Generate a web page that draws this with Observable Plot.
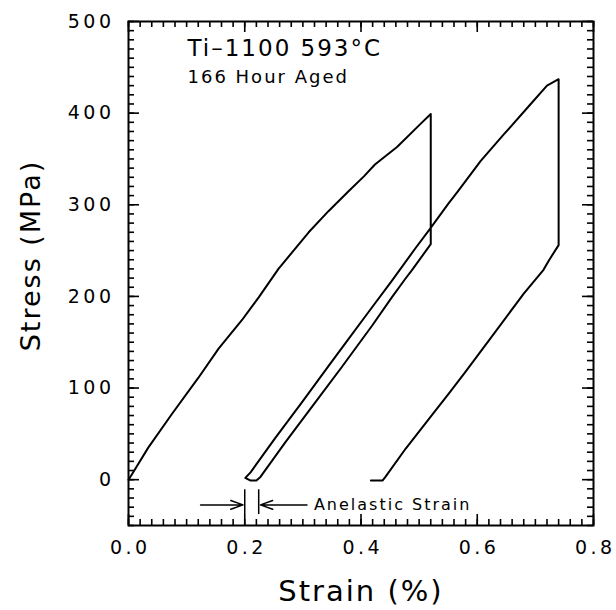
<!DOCTYPE html>
<html><head><meta charset="utf-8">
<script src="https://cdn.jsdelivr.net/npm/d3@7"></script>
<script src="https://cdn.jsdelivr.net/npm/@observablehq/plot@0.6"></script>
<style>
body{margin:0;background:#fff;}
svg text{letter-spacing:2px;}
g[aria-label="x-axis tick label"] text, g[aria-label="y-axis tick label"] text{letter-spacing:3.5px;}
g[aria-label="title1"] text{letter-spacing:4px;}
g[aria-label="title2"] text{letter-spacing:3.6px;}
g[aria-label="annot"] text{letter-spacing:2.8px;}
</style></head><body><div id="chart"></div>
<script>
// Continuous stress-strain trace: load, hold drop, unload, reload, hold drop, unload
const strain = [
  0, 0.006, 0.034, 0.075, 0.120, 0.155, 0.195, 0.224, 0.258, 0.310, 0.344, 0.379, 0.405, 0.424, 0.462, 0.502, 0.520,
  0.520,
  0.488, 0.476, 0.453, 0.419, 0.367, 0.321, 0.270, 0.227, 0.220, 0.210, 0.201,
  0.210, 0.252, 0.298, 0.344, 0.379, 0.413, 0.453, 0.493, 0.519, 0.550, 0.566, 0.606, 0.646, 0.692, 0.720, 0.740,
  0.740,
  0.723, 0.714, 0.680, 0.633, 0.579, 0.551, 0.525, 0.477, 0.442, 0.437, 0.417
];
const stress = [
  0, 6, 35, 72, 111, 143, 174, 199, 230, 270, 293, 315, 331, 344, 363, 388, 399,
  257,
  229, 219, 199, 168, 123, 84, 41, 3, -1, -1, 2,
  8, 45, 84, 124, 154, 183, 217, 252, 274, 301, 314, 348, 377, 410, 430, 437,
  256,
  239, 229, 203, 163, 117, 94, 73, 34, 3, -1, -1
];

const xMajor = [0, 0.2, 0.4, 0.6, 0.8];
const yMajor = [0, 100, 200, 300, 400, 500];
const xMinor = d3.range(0, 41).map(i => i / 50);
const yMinor = d3.range(-5, 51).map(i => i * 10);
const xDomain = [0, 0.8];
const yDomain = [-50, 500];

const titleLines = ["Ti–1100 593°C", "166 Hour Aged"];
const xLabel = "Strain (%)";
const yLabel = "Stress (MPa)";
const annotText = "Anelastic Strain";
const anelasticBounds = [0.200, 0.224];
const anelasticArrows = [{from: 0.124, to: 0.197}, {from: 0.307, to: 0.227}];
const annotStress = -27.5;

const W = 616, H = 610, mL = 128, mR = 23, mT = 21, mB = 85;
const frameW = W - mL - mR, frameH = H - mT - mB;
const data = strain.map((x, i) => ({x, y: stress[i]}));
const tk = {stroke: "black", strokeWidth: 1.6};

const chart = Plot.plot({
  width: W, height: H,
  marginLeft: mL, marginRight: mR, marginTop: mT, marginBottom: mB,
  style: {fontFamily: "DejaVu Sans", color: "black", background: "white"},
  x: {domain: xDomain},
  y: {domain: yDomain},
  marks: [
    Plot.line(data, {x: "x", y: "y", stroke: "black", strokeWidth: 2, strokeLinejoin: "round"}),
    Plot.frame({stroke: "black", strokeWidth: 2}),
    // inward ticks on all four sides (minor every 0.02 / 10 MPa, major every 0.2 / 100 MPa)
    Plot.tickX(xMinor, {x: d => d, insetTop: frameH - 6, ...tk}),
    Plot.tickX(xMinor, {x: d => d, insetBottom: frameH - 6, ...tk}),
    Plot.tickX(xMajor, {x: d => d, insetTop: frameH - 11, ...tk}),
    Plot.tickX(xMajor, {x: d => d, insetBottom: frameH - 11, ...tk}),
    Plot.tickY(yMinor, {y: d => d, insetRight: frameW - 6, ...tk}),
    Plot.tickY(yMinor, {y: d => d, insetLeft: frameW - 6, ...tk}),
    Plot.tickY(yMajor, {y: d => d, insetRight: frameW - 11, ...tk}),
    Plot.tickY(yMajor, {y: d => d, insetLeft: frameW - 11, ...tk}),
    Plot.axisX({ticks: xMajor, tickSize: 0, tickPadding: 15, fontSize: 19, dx: 1.75, tickFormat: d3.format(".1f"), label: null}),
    Plot.axisY({ticks: yMajor, tickSize: 0, tickPadding: 14, fontSize: 19, label: null}),
    Plot.text([xLabel], {text: d => d, frameAnchor: "bottom", textAnchor: "middle", lineAnchor: "bottom", dy: 75, fontSize: 29}),
    Plot.text([yLabel], {text: d => d, frameAnchor: "left", textAnchor: "middle", lineAnchor: "middle", rotate: -90, dx: -97, dy: -18, fontSize: 27}),
    Plot.text([titleLines[0]], {text: d => d, ariaLabel: "title1", frameAnchor: "top-left", textAnchor: "start", lineAnchor: "bottom", dx: 59, dy: 34, fontSize: 23}),
    Plot.text([titleLines[1]], {text: d => d, ariaLabel: "title2", frameAnchor: "top-left", textAnchor: "start", lineAnchor: "bottom", dx: 59, dy: 61, fontSize: 18}),
    // anelastic strain annotation
    Plot.ruleX(anelasticBounds, {x: d => d, y1: -11, y2: -38, stroke: "black", strokeWidth: 1.5}),
    Plot.arrow(anelasticArrows, {x1: "from", x2: "to", y1: annotStress, y2: annotStress, stroke: "black", strokeWidth: 1.5, headLength: 13, headAngle: 40}),
    Plot.text([annotText], {text: d => d, ariaLabel: "annot", x: 0.319, y: annotStress, textAnchor: "start", lineAnchor: "middle", fontSize: 16})
  ]
});
document.getElementById("chart").appendChild(chart);
</script>
</body></html>
